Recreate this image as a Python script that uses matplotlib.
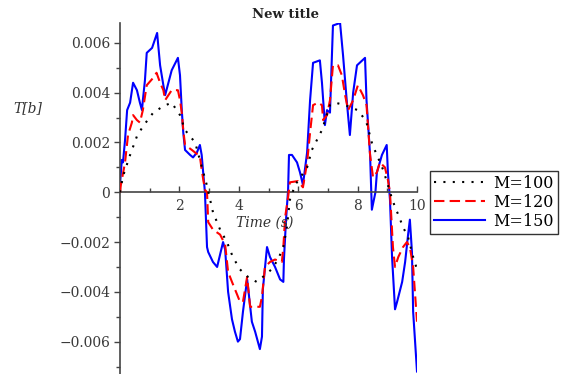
import matplotlib
matplotlib.use("Agg")
import matplotlib.pyplot as plt
from matplotlib.ticker import MultipleLocator, FixedLocator, FixedFormatter

# values, T[b] in units of 1e-3
t100 = [0, 0.1, 0.34, 0.57, 0.78, 1.12, 1.46, 1.74, 2.02, 2.19,
        2.36, 2.53, 2.69, 2.92, 3.13, 3.37, 3.6, 3.8, 4.04, 4.31,
        4.6, 4.81, 5.1, 5.32, 5.5, 5.62, 5.72, 5.9, 6.3, 6.46,
        6.63, 6.8, 7.07, 7.24, 7.58, 8.0, 8.2, 8.3, 8.5, 8.65,
        8.86, 8.98, 9.09, 9.26, 9.37, 9.53, 9.7, 9.87, 10]
v100 = [0, 0.64, 1.5, 2.25, 2.66, 3.2, 3.46, 3.6, 3.1, 2.5,
        2.25, 2.0, 1.3, 0.3, -0.8, -1.5, -2.0, -2.6, -3.1, -3.4,
        -3.6, -3.4, -3.1, -2.7, -2.2, -1.4, -0.3, 0.3, 1.0, 1.7,
        2.1, 2.5, 3.5, 3.6, 3.5, 3.3, 3.0, 2.8, 1.9, 1.5,
        0.9, 0.45, 0, -0.6, -0.9, -1.4, -1.8, -2.6, -3.1]

t120 = [0, 0.03, 0.17, 0.27, 0.4, 0.44, 0.57, 0.67, 0.77, 0.9,
        1.12, 1.23, 1.35, 1.46, 1.52, 1.63, 1.74, 1.95, 2.02, 2.08,
        2.13, 2.19, 2.42, 2.63, 2.69, 2.75, 2.86, 2.93, 2.97, 3.13,
        3.37, 3.54, 3.64, 3.77, 3.94, 4.04, 4.14, 4.28, 4.38, 4.48,
        4.71, 4.78, 4.88, 5.05, 5.22, 5.45, 5.5, 5.56, 5.66, 5.72,
        5.99, 6.16, 6.3, 6.4, 6.5, 6.67, 6.8, 6.84, 6.97, 7.07,
        7.17, 7.34, 7.47, 7.58, 7.68, 7.85, 8.01, 8.18, 8.3, 8.42,
        8.52, 8.65, 8.75, 8.92, 9.02, 9.09, 9.19, 9.26, 9.37, 9.53,
        9.66, 9.76, 9.87, 9.93, 10]
v120 = [0, 0.3, 1.2, 2.3, 2.8, 3.1, 2.9, 2.8, 3.3, 4.3,
        4.6, 4.8, 4.4, 4.1, 3.7, 3.9, 4.1, 4.1, 3.7, 3.2,
        2.5, 1.9, 1.7, 1.5, 1.45, 0.9, 0.1, 0, -1.2, -1.5,
        -1.7, -2.1, -3.2, -3.6, -4.1, -4.4, -4.4, -3.4, -4.6, -4.6,
        -4.6, -4.2, -3.0, -2.8, -2.7, -2.8, -2.2, -1.0, -0.2, 0.4,
        0.45, 0.2, 1.2, 2.4, 3.5, 3.6, 3.5, 2.9, 3.1, 3.7,
        5.1, 5.1, 4.7, 3.9, 3.3, 3.7, 4.3, 3.9, 3.5, 1.5,
        0.6, 0.8, 1.2, 1.0, 0.5, 0, -2.2, -3.0, -2.6, -2.2,
        -2.0, -2.2, -3.0, -4.0, -5.2]

t150 = [0, 0.06, 0.1, 0.17, 0.24, 0.34, 0.44, 0.57, 0.67, 0.74,
        0.77, 0.84, 0.9, 1.08, 1.25, 1.28, 1.35, 1.46, 1.52, 1.63,
        1.74, 1.95, 2.02, 2.08, 2.13, 2.19, 2.36, 2.46, 2.59, 2.69,
        2.75, 2.8, 2.86, 2.93, 2.97, 3.13, 3.27, 3.37, 3.47, 3.54,
        3.64, 3.77, 3.87, 3.97, 4.04, 4.14, 4.28, 4.31, 4.44, 4.55,
        4.71, 4.78, 4.81, 4.95, 5.05, 5.22, 5.39, 5.5, 5.52, 5.59,
        5.66, 5.69, 5.79, 5.96, 6.06, 6.16, 6.3, 6.4, 6.5, 6.73,
        6.8, 6.9, 6.97, 7.07, 7.17, 7.41, 7.51, 7.64, 7.74, 7.85,
        7.98, 8.25, 8.3, 8.42, 8.48, 8.6, 8.65, 8.82, 8.98, 9.02,
        9.09, 9.16, 9.26, 9.33, 9.5, 9.6, 9.7, 9.76, 9.83, 9.87,
        9.93, 10]
v150 = [0.3, 1.3, 1.2, 2.1, 3.3, 3.6, 4.4, 4.1, 3.6, 3.3,
        3.7, 4.5, 5.6, 5.8, 6.4, 6.0, 5.1, 4.3, 3.9, 4.4,
        4.9, 5.4, 4.7, 3.3, 2.4, 1.7, 1.5, 1.4, 1.6, 1.9,
        1.5, 0.8, 0, -2.2, -2.4, -2.8, -3.0, -2.5, -2.0, -2.3,
        -4.0, -5.1, -5.6, -6.0, -5.9, -4.8, -3.5, -3.8, -5.2, -5.6,
        -6.3, -5.8, -3.9, -2.2, -2.6, -3.0, -3.5, -3.6, -2.7, -1.1,
        0.1, 1.5, 1.5, 1.2, 0.8, 0.3, 1.6, 3.7, 5.2, 5.3,
        4.4, 2.7, 3.3, 3.2, 6.7, 6.8, 5.5, 3.6, 2.3, 4.0,
        5.1, 5.4, 3.7, 1.5, -0.7, 0, 0.8, 1.5, 1.9, 0.8,
        -0.3, -2.6, -4.7, -4.4, -3.6, -2.8, -1.7, -1.1, -2.4, -4.8,
        -5.9, -7.2]

labels = ["M=100", "M=120", "M=150"]
xticks = [2, 4, 6, 8, 10]
yticks = [-0.006, -0.004, -0.002, 0, 0.002, 0.004, 0.006]
ytick_labels = ["\u22120.006", "\u22120.004", "\u22120.002", "0",
                "0.002", "0.004", "0.006"]

plt.rcParams["font.family"] = ["DejaVu Serif"]

fig = plt.figure(figsize=(5.62, 3.74), dpi=100)
ax = fig.add_axes([120/562, 0, 297/562, 351/374])

s = 1e-3
l3, = ax.plot(t150, [v*s for v in v150], color="#0000ff", lw=1.5, zorder=2)
l2, = ax.plot(t120, [v*s for v in v120], color="#ff0000", lw=1.5,
              linestyle=(0, (5, 2.5)), zorder=3)
l1, = ax.plot(t100, [v*s for v in v100], color="black", lw=1.5,
              linestyle=(0, (1, 3.5)), zorder=4)

ax.set_xlim(0, 10)
ax.set_ylim(-0.0073, 0.0068)

for side in ["top", "right"]:
    ax.spines[side].set_visible(False)
ax.spines["left"].set_position(("data", 0))
ax.spines["bottom"].set_position(("data", 0))
for side in ["left", "bottom"]:
    ax.spines[side].set_color("#444444")
    ax.spines[side].set_linewidth(1.2)

ax.xaxis.set_major_locator(FixedLocator(xticks))
ax.xaxis.set_minor_locator(MultipleLocator(1))
ax.yaxis.set_major_locator(FixedLocator(yticks))
ax.yaxis.set_major_formatter(FixedFormatter(ytick_labels))
ax.yaxis.set_minor_locator(MultipleLocator(0.001))

ax.tick_params(axis="x", which="both", direction="in", color="#444444",
               labelsize=10, labelcolor="#3a3a3a", pad=5)
ax.tick_params(axis="x", which="major", length=4, width=1)
ax.tick_params(axis="x", which="minor", length=3, width=1)
ax.tick_params(axis="y", which="both", direction="out", color="#444444",
               labelsize=10, labelcolor="#3a3a3a", pad=3)
ax.tick_params(axis="y", which="major", length=4, width=1)
ax.tick_params(axis="y", which="minor", length=3, width=1)

fig.text(286/562, 1 - 14/374, "New title", ha="center", va="center",
         fontsize=9.5, fontweight="bold", color="#222222")
fig.text(28/562, 1 - 108/374, "T[b]", ha="center", va="center",
         fontsize=10, style="italic", color="#333333")
fig.text(265/562, 1 - 223/374, "Time (s)", ha="center", va="center",
         fontsize=10, style="italic", color="#333333")

leg = fig.legend([l1, l2, l3], labels, loc="upper left",
                 bbox_to_anchor=(430/562, 1 - 171/374), fontsize=11.5,
                 frameon=True, fancybox=False, handlelength=3.2,
                 handletextpad=0.5, labelspacing=0.12, borderpad=0.25,
                 borderaxespad=0)
leg.get_frame().set_edgecolor("black")
leg.get_frame().set_linewidth(1.0)

fig.savefig("out.png", dpi=100)
